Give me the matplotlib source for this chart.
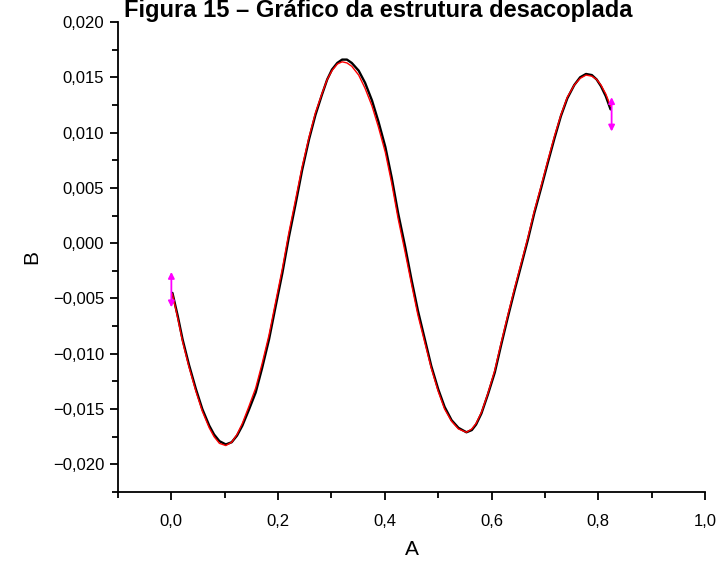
import matplotlib
matplotlib.use("Agg")
import matplotlib.pyplot as plt
from matplotlib.ticker import MultipleLocator, FuncFormatter

plt.rcParams['font.family'] = ['Liberation Sans', 'DejaVu Sans']

# Data
x_vals = [0.002, 0.012, 0.021, 0.033, 0.046, 0.058, 0.071, 0.080, 0.090, 0.102,
          0.113, 0.123, 0.133, 0.145, 0.158, 0.170, 0.183, 0.195, 0.208, 0.220,
          0.233, 0.245, 0.258, 0.270, 0.282, 0.292, 0.301, 0.311, 0.320, 0.329,
          0.338, 0.351, 0.363, 0.376, 0.388, 0.401, 0.413, 0.425, 0.438, 0.450,
          0.462, 0.475, 0.487, 0.500, 0.512, 0.525, 0.538, 0.553, 0.563, 0.571,
          0.581, 0.593, 0.606, 0.618, 0.631, 0.643, 0.655, 0.668, 0.680, 0.693,
          0.705, 0.718, 0.730, 0.742, 0.755, 0.766, 0.777, 0.788, 0.797, 0.805,
          0.814, 0.823]
y_black = [-0.0045, -0.0066, -0.0087, -0.0110, -0.0132, -0.0150, -0.0165, -0.0173, -0.0179, -0.0182,
           -0.0180, -0.0174, -0.0165, -0.0151, -0.0135, -0.0113, -0.0087, -0.0058, -0.0027, 0.0005,
           0.0036, 0.0066, 0.0094, 0.0116, 0.0134, 0.0148, 0.0157, 0.0163, 0.0166, 0.0166,
           0.0163, 0.0156, 0.0145, 0.0129, 0.0110, 0.0087, 0.0059, 0.0027, -0.0003, -0.0033,
           -0.0061, -0.0087, -0.0111, -0.0132, -0.0148, -0.0160, -0.0167, -0.0171, -0.0169, -0.0164,
           -0.0154, -0.0137, -0.0117, -0.0092, -0.0066, -0.0043, -0.0021, 0.0003, 0.0027, 0.0050,
           0.0072, 0.0095, 0.0115, 0.0131, 0.0143, 0.0150, 0.0153, 0.0152, 0.0148, 0.0142,
           0.0133, 0.0121]
y_red = [-0.0046, -0.0068, -0.0089, -0.0112, -0.0134, -0.0152, -0.0167, -0.0175, -0.0181, -0.0183,
         -0.0180, -0.0173, -0.0163, -0.0148, -0.0131, -0.0109, -0.0083, -0.0054, -0.0023, 0.0009,
         0.0040, 0.0069, 0.0096, 0.0118, 0.0135, 0.0148, 0.0156, 0.0162, 0.0164, 0.0163,
         0.0160, 0.0152, 0.0140, 0.0124, 0.0105, 0.0082, 0.0054, 0.0022, -0.0008, -0.0037,
         -0.0065, -0.0090, -0.0113, -0.0134, -0.0150, -0.0161, -0.0168, -0.0171, -0.0168, -0.0163,
         -0.0153, -0.0136, -0.0115, -0.0090, -0.0064, -0.0041, -0.0019, 0.0005, 0.0029, 0.0052,
         0.0074, 0.0097, 0.0116, 0.0132, 0.0143, 0.0149, 0.0152, 0.0151, 0.0148, 0.0143,
         0.0135, 0.0124]

arrow_x = [0.0, 0.825]
arrow_top = [-0.0026, 0.0132]
arrow_bottom = [-0.0058, 0.0101]

fig = plt.figure(figsize=(7.17, 5.61), dpi=100)
ax = fig.add_axes([118/717, 1-492/561, (705-118)/717, (492-22)/561])

ax.plot(x_vals, y_black, color='black', lw=1.7, solid_capstyle='round', solid_joinstyle='round')
ax.plot(x_vals, y_red, color='red', lw=1.0, solid_joinstyle='round')

for xa, yt, yb in zip(arrow_x, arrow_top, arrow_bottom):
    ax.annotate('', xy=(xa, yt), xytext=(xa, yb),
                arrowprops=dict(arrowstyle='<|-|>', color='magenta', lw=1.3,
                                mutation_scale=9, shrinkA=0, shrinkB=0))

ax.set_xlim(-0.1, 1.0)
ax.set_ylim(-0.0225, 0.020)

for s in ['top', 'right']:
    ax.spines[s].set_visible(False)
for s in ['left', 'bottom']:
    ax.spines[s].set_linewidth(1.3)

ax.xaxis.set_major_locator(MultipleLocator(0.2))
ax.xaxis.set_minor_locator(MultipleLocator(0.1))
ax.yaxis.set_major_locator(MultipleLocator(0.005))
ax.yaxis.set_minor_locator(MultipleLocator(0.0025))

def fmt(decimals):
    def f(v, pos):
        s = f"{v:.{decimals}f}"
        if s.startswith('-'):
            if float(s) == 0:
                s = s[1:]
            else:
                s = '\u2212' + s[1:]
        return s.replace('.', ',')
    return FuncFormatter(f)

ax.xaxis.set_major_formatter(fmt(1))
ax.yaxis.set_major_formatter(fmt(3))

ax.tick_params(which='major', direction='out', length=6, width=1.3, labelsize=12, pad=4)
ax.tick_params(which='minor', direction='out', length=4, width=1.3)
ax.tick_params(axis='x', which='major', pad=10)

ax.set_xlabel('A', fontsize=15, labelpad=8)
ax.set_ylabel('B', fontsize=15, labelpad=8)

fig.text(378/717, 1-17/561, 'Figura 15 \u2013 Gr\u00e1fico da estrutura desacoplada',
         ha='center', va='baseline', fontsize=17, fontweight='bold')

fig.savefig('out.png', dpi=100)
